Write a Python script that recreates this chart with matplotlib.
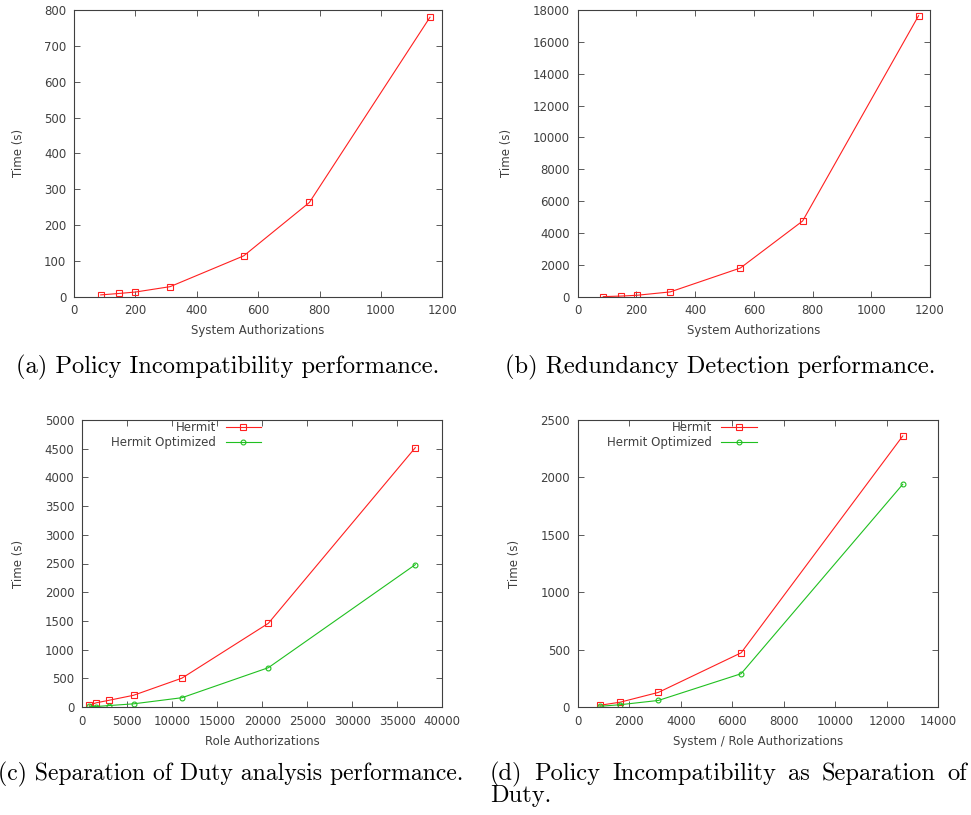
import matplotlib
matplotlib.use("Agg")
import matplotlib.pyplot as plt

# ---- data ----
a_x = [87, 146, 200, 313, 553, 767, 1160]
a_y = [5, 9, 13, 28, 114, 263, 780]

b_x = [87, 148, 202, 315, 554, 766, 1161]
b_y = [5, 40, 90, 300, 1800, 4750, 17640]

c_x = [800, 1550, 3000, 5720, 11100, 20690, 37000]
c_hermit = [30, 72, 117, 204, 503, 1458, 4518]
c_opt = [12, 8, 25, 55, 162, 685, 2480]

d_x = [860, 1650, 3130, 6345, 12620]
d_hermit = [15, 42, 127, 472, 2361]
d_opt = [6, 20, 57, 290, 1940]

captions = ["(a) Policy Incompatibility performance.",
            "(b) Redundancy Detection performance.",
            "(c) Separation of Duty analysis performance.",
            "(d) Policy Incompatibility as Separation of"]
caption_d2 = "Duty."

W, H = 971, 815
fig = plt.figure(figsize=(W / 100, H / 100), dpi=100)

TXT = "#404040"
RED = "#ff2020"
GRN = "#20c020"
plt.rcParams['font.family'] = ['DejaVu Sans']
plt.rcParams['font.size'] = 8.5


def make_ax(l, r, t, b):
    return fig.add_axes([l / W, 1 - b / H, (r - l) / W, (b - t) / H])


def style(ax, xlim, ylim, xticks, yticks, xlabel):
    ax.set_xlim(*xlim)
    ax.set_ylim(*ylim)
    ax.set_xticks(xticks)
    ax.set_yticks(yticks)
    ax.tick_params(direction='in', length=4, width=0.6, top=True, right=True,
                   colors=TXT, labelcolor=TXT, labelsize=8.5, pad=5.5)
    for s in ax.spines.values():
        s.set_color(TXT)
        s.set_linewidth(0.8)
    ax.set_xlabel(xlabel, color=TXT, fontsize=8.5, labelpad=5)
    ax.set_ylabel("Time (s)", color=TXT, fontsize=8.5, labelpad=14)


def plot_red(ax, x, y, label=None):
    ax.plot(x, y, color=RED, lw=0.8, marker='s', ms=4.2, mfc='none',
            mec=RED, mew=0.8, label=label)


def plot_green(ax, x, y, label=None):
    ax.plot(x, y, color=GRN, lw=0.8, marker='o', ms=3.5, mfc='none',
            mec=GRN, mew=0.8, label=label)


def add_legend(ax):
    leg = ax.legend(loc='upper right', bbox_to_anchor=(0.51, 1.012),
                    frameon=False, markerfirst=False, handlelength=3.0,
                    fontsize=8.5, labelspacing=0.12, borderaxespad=0.0,
                    handletextpad=0.8)
    for t in leg.get_texts():
        t.set_color(TXT)


# (a)
ax = make_ax(74, 442.3, 10, 296.7)
plot_red(ax, a_x, a_y)
style(ax, (0, 1200), (0, 800), range(0, 1201, 200), range(0, 801, 100),
      "System Authorizations")

# (b)
ax = make_ax(577.7, 930, 10, 296.7)
plot_red(ax, b_x, b_y)
style(ax, (0, 1200), (0, 18000), range(0, 1201, 200), range(0, 18001, 2000),
      "System Authorizations")

# (c)
ax = make_ax(82, 442.3, 420, 707)
plot_red(ax, c_x, c_hermit, "Hermit")
plot_green(ax, c_x, c_opt, "Hermit Optimized")
style(ax, (0, 40000), (0, 5000), range(0, 40001, 5000), range(0, 5001, 500),
      "Role Authorizations")
add_legend(ax)

# (d)
ax = make_ax(577.7, 938.3, 420, 707)
plot_red(ax, d_x, d_hermit, "Hermit")
plot_green(ax, d_x, d_opt, "Hermit Optimized")
style(ax, (0, 14000), (0, 2500), range(0, 14001, 2000), range(0, 2501, 500),
      "System / Role Authorizations")
add_legend(ax)

# captions
cap_kw = dict(family='cmr10', fontsize=17.6, color='black', va='baseline')
fig.text(228 / W, 1 - 373 / H, captions[0], ha='center', **cap_kw)
fig.text(720 / W, 1 - 373 / H, captions[1], ha='center', **cap_kw)
fig.text(-2 / W, 1 - 780 / H, captions[2], ha='left', family='cmr10',
         fontsize=17.1, color='black', va='baseline')

# justified first line of caption (d)
words = captions[3].split(" ")
renderer = fig.canvas.get_renderer()
tmp = [fig.text(0, 0, w, **cap_kw) for w in words]
widths = [t.get_window_extent(renderer).width for t in tmp]
for t in tmp:
    t.remove()
x0, x1 = 490.0, 967.0
gap = (x1 - x0 - sum(widths)) / (len(words) - 1)
x = x0
for w, wd in zip(words, widths):
    fig.text(x / W, 1 - 780 / H, w, ha='left', **cap_kw)
    x += wd + gap
fig.text(490 / W, 1 - 802 / H, caption_d2, ha='left', **cap_kw)

fig.savefig("out.png", dpi=100)
